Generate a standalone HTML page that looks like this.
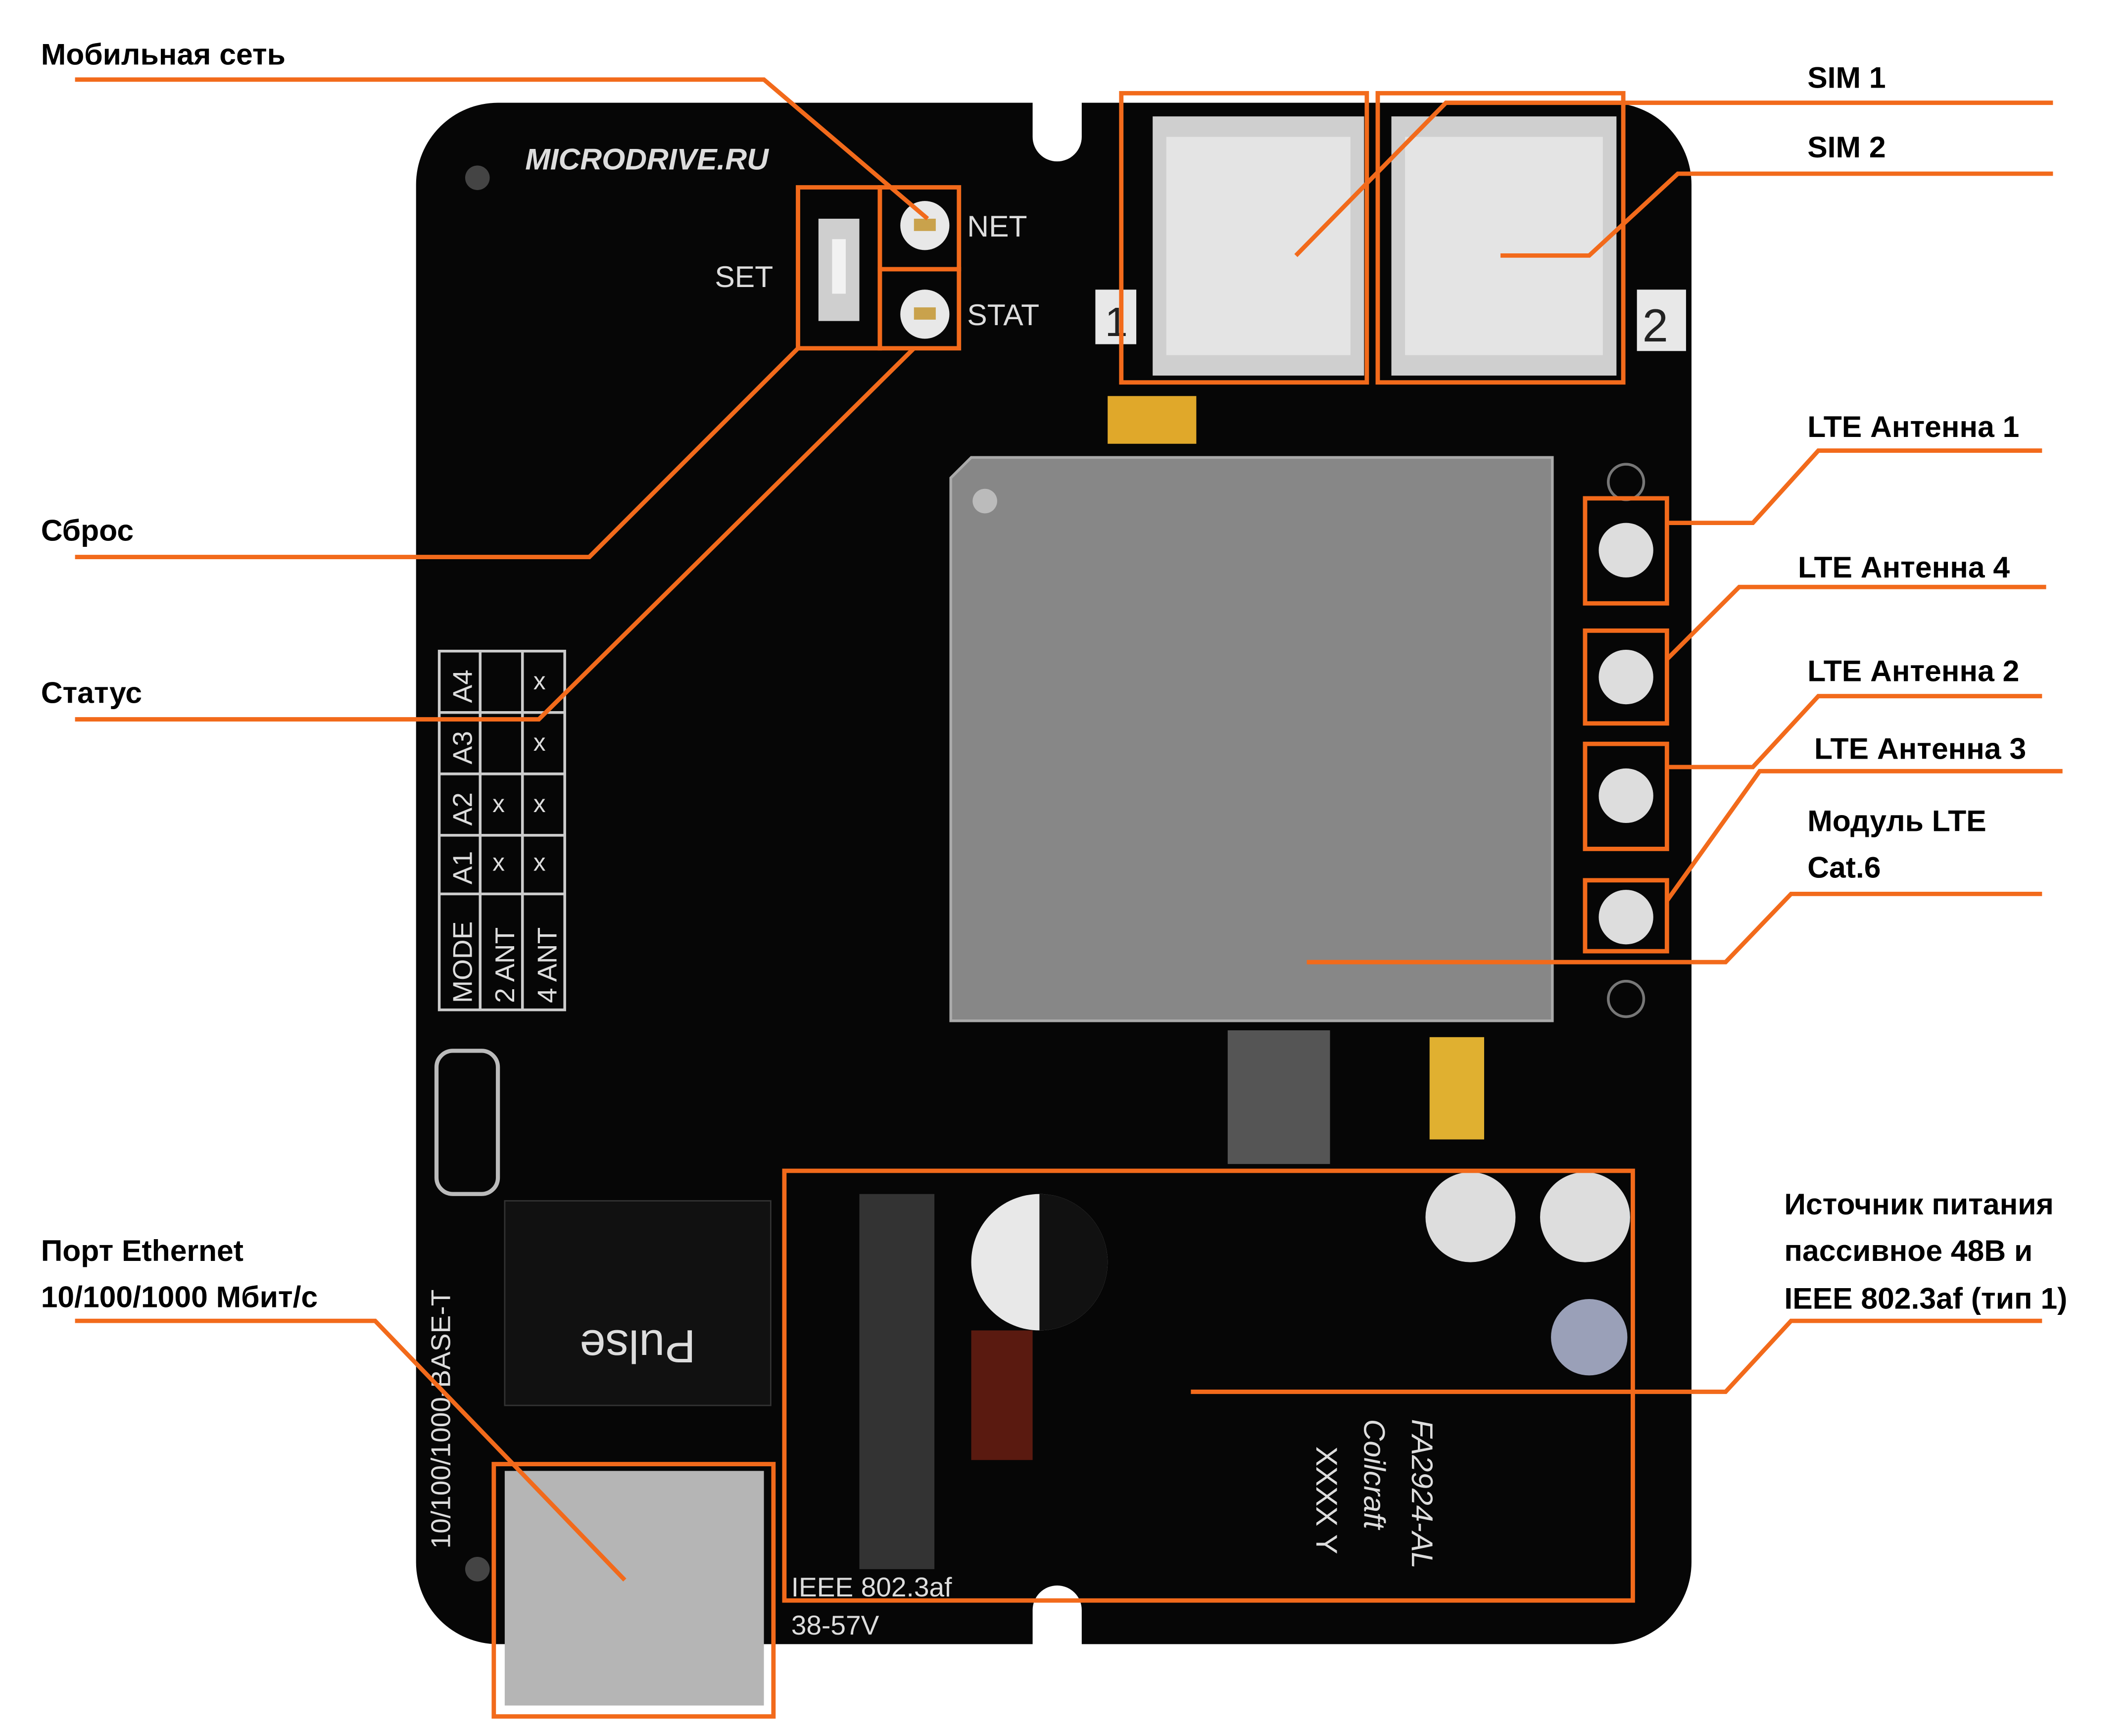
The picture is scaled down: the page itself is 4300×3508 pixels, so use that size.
<!DOCTYPE html>
<html><head><meta charset="utf-8"><style>
html,body{margin:0;padding:0;background:#fff}
svg{display:block}
.lbl{font-family:"Liberation Sans",sans-serif;font-weight:bold;font-size:22px;fill:#000}
.o{fill:none;stroke:#f26a1b;stroke-width:3.2}
.w{font-family:"Liberation Sans",sans-serif;fill:#ddd}
</style></head><body>
<svg width="4300" height="3508" viewBox="0 0 1560 1272" xmlns="http://www.w3.org/2000/svg">
<rect width="1560" height="1272" fill="#fff"/>
<path d="M365,75 H757 V100 a18,18 0 0 0 36,0 V75 H1180 a60,60 0 0 1 60,60 V1145 a60,60 0 0 1 -60,60 H793 V1180 a18,18 0 0 0 -36,0 V1205 H365 a60,60 0 0 1 -60,-60 V135 a60,60 0 0 1 60,-60 Z" fill="#060606"/>
<circle cx="350" cy="130" r="9" fill="#444"/>
<circle cx="350" cy="1150" r="9" fill="#444"/>
<text x="385" y="124" class="w" font-size="22" font-style="italic" font-weight="bold">MICRODRIVE.RU</text>
<rect x="600" y="160" width="30" height="75" fill="#cfcfcf"/>
<rect x="610" y="175" width="10" height="40" fill="#f2f2f2"/>
<text x="524" y="210" class="w" font-size="22">SET</text>
<circle cx="678" cy="165" r="18" fill="#e8e8e8"/><rect x="670" y="160" width="16" height="9" fill="#c9a24c"/>
<circle cx="678" cy="230" r="18" fill="#e8e8e8"/><rect x="670" y="225" width="16" height="9" fill="#c9a24c"/>
<text x="709" y="173" class="w" font-size="22">NET</text>
<text x="709" y="238" class="w" font-size="22">STAT</text>
<rect x="845" y="85" width="155" height="190" fill="#cfcfcf"/><rect x="855" y="100" width="135" height="160" fill="#e4e4e4"/>
<rect x="1020" y="85" width="165" height="190" fill="#cfcfcf"/><rect x="1030" y="100" width="145" height="160" fill="#e4e4e4"/>
<rect x="803" y="212" width="30" height="40" fill="#e8e8e8"/><text x="810" y="246" font-family="Liberation Sans" font-size="30" fill="#222">1</text>
<rect x="1200" y="212" width="36" height="45" fill="#e8e8e8"/><text x="1204" y="250" font-family="Liberation Sans" font-size="34" fill="#222">2</text>
<rect x="812" y="290" width="65" height="35" fill="#e0a82a"/>
<path d="M712,335 H1138 V748 H697 V350 Z" fill="#878787" stroke="#aaa" stroke-width="2"/>
<circle cx="722" cy="367" r="9" fill="#bbb"/>
<g fill="#ddd"><circle cx="1192" cy="403" r="20"/><circle cx="1192" cy="496" r="20"/><circle cx="1192" cy="583" r="20"/><circle cx="1192" cy="672" r="20"/></g>
<circle cx="1192" cy="353" r="13" fill="none" stroke="#777" stroke-width="2"/>
<circle cx="1192" cy="732" r="13" fill="none" stroke="#777" stroke-width="2"/>
<g fill="none" stroke="#ccc" stroke-width="2"><rect x="322" y="477" width="92" height="263"/><line x1="352" y1="477" x2="352" y2="740"/><line x1="383" y1="477" x2="383" y2="740"/><line x1="322" y1="522" x2="414" y2="522"/><line x1="322" y1="567" x2="414" y2="567"/><line x1="322" y1="612" x2="414" y2="612"/><line x1="322" y1="655" x2="414" y2="655"/></g>
<g class="w" font-size="20"><text transform="translate(346,515) rotate(-90)">A4</text><text transform="translate(346,560) rotate(-90)">A3</text><text transform="translate(346,605) rotate(-90)">A2</text><text transform="translate(346,648) rotate(-90)">A1</text><text transform="translate(346,735) rotate(-90)">MODE</text><text transform="translate(377,735) rotate(-90)">2 ANT</text><text transform="translate(408,735) rotate(-90)">4 ANT</text></g>
<g class="w" font-size="18"><text x="391" y="505">x</text><text x="391" y="550">x</text><text x="391" y="595">x</text><text x="361" y="595">x</text><text x="391" y="638">x</text><text x="361" y="638">x</text></g>
<rect x="900" y="755" width="75" height="98" fill="#555"/>
<rect x="1048" y="760" width="40" height="75" fill="#e0b030"/>
<circle cx="1078" cy="892" r="33" fill="#ddd"/><circle cx="1162" cy="892" r="33" fill="#ddd"/>
<circle cx="1165" cy="980" r="28" fill="#9aa0b8"/>
<circle cx="762" cy="925" r="50" fill="#e8e8e8"/><path d="M762,875 a50,50 0 0 1 0,100 Z" fill="#111"/>
<rect x="630" y="875" width="55" height="275" fill="#333"/>
<rect x="712" y="975" width="45" height="95" fill="#5a1a10"/>
<rect x="370" y="880" width="195" height="150" fill="#111" stroke="#333"/>
<text transform="translate(510,975) rotate(180)" class="w" font-size="34">Pulse</text>
<rect x="320" y="770" width="45" height="105" rx="12" fill="none" stroke="#bbb" stroke-width="3"/>
<text transform="translate(330,1135) rotate(-90)" class="w" font-size="20">10/100/1000-BASE-T</text>
<g class="w" font-size="22" font-style="italic">
<text transform="translate(1035,1040) rotate(90)">FA2924-AL</text>
<text transform="translate(1000,1040) rotate(90)">Coilcraft</text>
<text transform="translate(965,1060) rotate(90)" font-style="normal">XXXX Y</text>
</g>
<text x="580" y="1170" class="w" font-size="20">IEEE 802.3af</text>
<text x="580" y="1198" class="w" font-size="20">38-57V</text>
<rect x="370" y="1078" width="190" height="172" fill="#b5b5b5"/>
<g class="o">
<rect x="822" y="68" width="180" height="212"/><rect x="1010" y="68" width="180" height="212"/>
<rect x="585" y="137" width="60" height="118"/><rect x="645" y="137" width="58" height="60"/><rect x="645" y="197" width="58" height="58"/>
<rect x="1162" y="365" width="60" height="77"/><rect x="1162" y="462" width="60" height="68"/><rect x="1162" y="545" width="60" height="77"/><rect x="1162" y="645" width="60" height="52"/>
<rect x="575" y="858" width="622" height="315"/><rect x="362" y="1073" width="205" height="185"/>
<polyline points="55,58 560,58 680,160"/>
<polyline points="1505,75 1060,75 950,187"/>
<polyline points="1505,127 1230,127 1165,187 1100,187"/>
<polyline points="55,408 432,408 585,255"/>
<polyline points="55,527 395,527 670,255"/>
<polyline points="1222,383 1285,383 1333,330 1497,330"/>
<polyline points="1222,483 1275,430 1500,430"/>
<polyline points="1222,562 1285,562 1333,510 1497,510"/>
<polyline points="1222,660 1290,565 1512,565"/>
<polyline points="958,705 1265,705 1313,655 1497,655"/>
<polyline points="873,1020 1265,1020 1313,968 1497,968"/>
<polyline points="55,968 275,968 458,1158"/>
</g>
<text x="30" y="47" class="lbl">Мобильная сеть</text>
<text x="1325" y="64" class="lbl">SIM 1</text>
<text x="1325" y="115" class="lbl">SIM 2</text>
<text x="30" y="396" class="lbl">Сброс</text>
<text x="30" y="515" class="lbl">Статус</text>
<text x="1325" y="320" class="lbl">LTE Антенна 1</text>
<text x="1318" y="423" class="lbl">LTE Антенна 4</text>
<text x="1325" y="499" class="lbl">LTE Антенна 2</text>
<text x="1330" y="556" class="lbl">LTE Антенна 3</text>
<text x="1325" y="609" class="lbl">Модуль LTE</text>
<text x="1325" y="643" class="lbl">Cat.6</text>
<text x="1308" y="890" class="lbl">Источник питания</text>
<text x="1308" y="924" class="lbl">пассивное 48В и</text>
<text x="1308" y="959" class="lbl">IEEE 802.3af (тип 1)</text>
<text x="30" y="924" class="lbl">Порт Ethernet</text>
<text x="30" y="958" class="lbl">10/100/1000 Мбит/с</text>
</svg>
</body></html>
